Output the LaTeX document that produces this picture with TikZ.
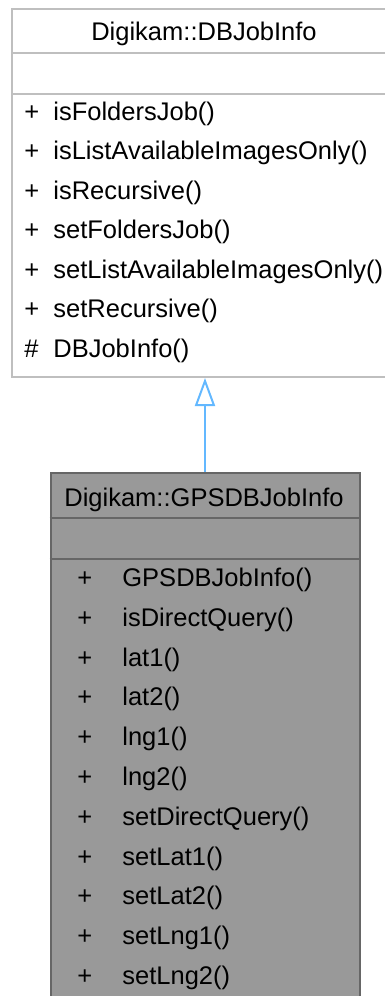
\documentclass[tikz,border=0pt]{standalone}
\usepackage{fontspec}
\setmainfont{Liberation Sans}
\usetikzlibrary{arrows.meta}
\definecolor{edgeblue}{HTML}{63B8FF}
\definecolor{basegray}{HTML}{BFBFBF}
\definecolor{derivedfill}{HTML}{999999}
\definecolor{derivedline}{HTML}{666666}
\tikzset{
  classbox/.style={anchor=north west, inner sep=0pt, line width=1pt},
  member/.style={anchor=base west, inner sep=0pt, font=\fontsize{12.75}{15}\selectfont},
  classname/.style={anchor=base, inner sep=0pt, font=\fontsize{12.75}{15}\selectfont}
}
\begin{document}
\begin{tikzpicture}[x=0.5pt,y=-0.5pt]
    \useasboundingbox (0,0) rectangle (385,996);
    \clip (0,0) rectangle (385,996);
    % base class
    \node[classbox, draw=basegray, fill=white, minimum width=193pt, minimum height=184pt] (base) at (11,8) {};
    \draw[draw=basegray, line width=1pt] (11,53) -- (397,53);
    \draw[draw=basegray, line width=1pt] (11,94) -- (397,94);
    \node[classname] (basename) at (204,40.5) {Digikam::DBJobInfo};
    \foreach \fn [count=\i from 0] in {isFoldersJob(), isListAvailableImagesOnly(), isRecursive(), setFoldersJob(), setListAvailableImagesOnly(), setRecursive()} {
        \node[member] (bvis\i) at (24,120+39.5*\i) {+};
        \node[member] (bfn\i) at (53,120+39.5*\i) {\fn};
    }
    \node[member] (bvis6) at (24,357) {\#};
    \node[member] (bfn6) at (53,357) {DBJobInfo()};
    % derived class
    \node[classbox, draw=derivedline, fill=derivedfill, minimum width=154.5pt, minimum height=270pt] (derived) at (49.5,472) {};
    \draw[draw=derivedline, line width=1pt] (49.5,518) -- (358.5,518);
    \draw[draw=derivedline, line width=1pt] (49.5,559) -- (358.5,559);
    \node[classname] (derivedname) at (204,506.5) {Digikam::GPSDBJobInfo};
    \foreach \fn [count=\i from 0] in {GPSDBJobInfo(), isDirectQuery(), lat1(), lat2(), lng1(), lng2(), setDirectQuery(), setLat1(), setLat2(), setLng1(), setLng2()} {
        \node[member] (dvis\i) at (77,586.5+39.8*\i) {+};
        \node[member] (dfn\i) at (122,586.5+39.8*\i) {\fn};
    }
    % inheritance
    \draw[edgeblue, line width=1pt, -{Triangle[open, length=14pt, width=10pt]}] (derived.north) -- (base.south);
\end{tikzpicture}
\end{document}
